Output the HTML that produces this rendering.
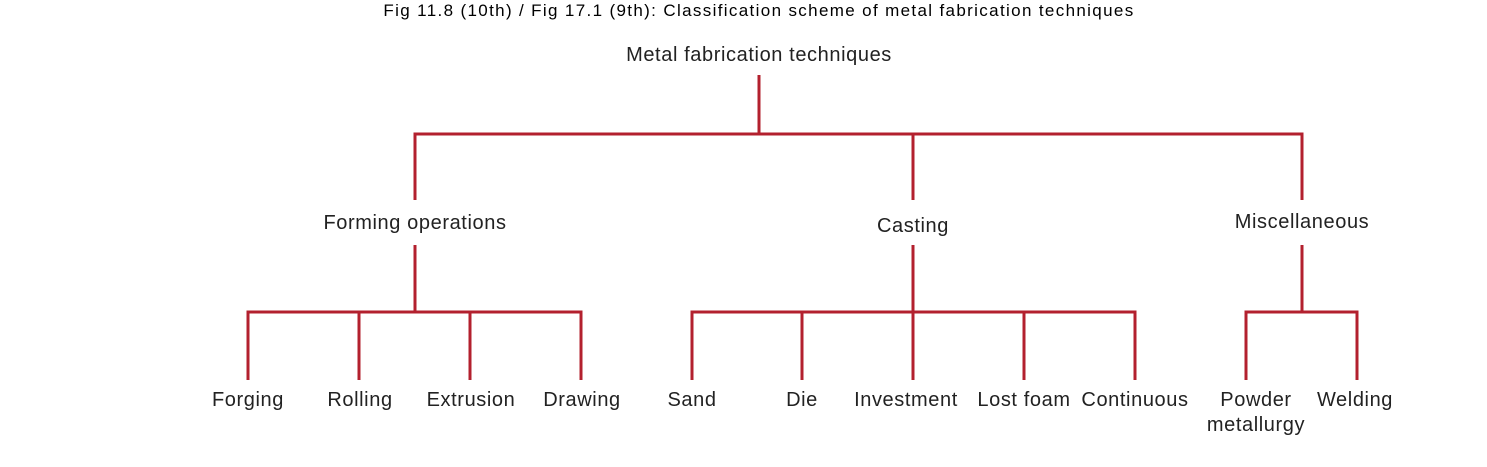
<!DOCTYPE html>
<html><head><style>
body{margin:0;background:#fff;width:1487px;height:462px;overflow:hidden}
svg text{font-family:"Liberation Sans",sans-serif;fill:#222;font-size:20px;letter-spacing:0.6px;text-anchor:middle}
</style></head><body>
<svg width="1487" height="462" xmlns="http://www.w3.org/2000/svg">
<text x="759" y="16" style="font-size:17px;fill:#000;letter-spacing:1.35px">Fig 11.8 (10th) / Fig 17.1 (9th): Classification scheme of metal fabrication techniques</text>
<g stroke="#b3202e" stroke-width="3" fill="none">
<path d="M759 75V134M415 200V134H1302V200M913 134V200"/>
<path d="M415 245V312M248 380V312H581V380M359 312V380M470 312V380"/>
<path d="M913 245V312M692 380V312H1135V380M802 312V380M913 312V380M1024 312V380"/>
<path d="M1302 245V312M1246 380V312H1357V380"/>
</g>
<text x="759" y="61">Metal fabrication techniques</text>
<text x="415" y="229">Forming operations</text>
<text x="913" y="232">Casting</text>
<text x="1302" y="228">Miscellaneous</text>
<text x="248" y="406">Forging</text>
<text x="360" y="406">Rolling</text>
<text x="471" y="406">Extrusion</text>
<text x="582" y="406">Drawing</text>
<text x="692" y="406">Sand</text>
<text x="802" y="406">Die</text>
<text x="906" y="406">Investment</text>
<text x="1024" y="406">Lost foam</text>
<text x="1135" y="406">Continuous</text>
<text x="1256" y="406">Powder</text>
<text x="1256" y="431">metallurgy</text>
<text x="1355" y="406">Welding</text>
</svg>
</body></html>
